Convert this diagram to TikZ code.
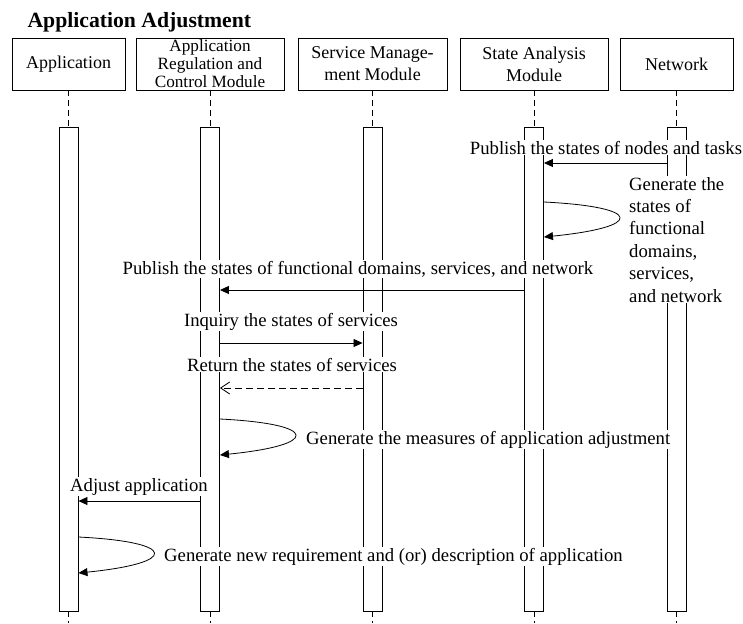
\documentclass[tikz,border=0pt]{standalone}
\usepackage{fontspec}
\setmainfont{Liberation Serif}
\usetikzlibrary{arrows.meta,positioning}

\begin{document}
\begin{tikzpicture}[x=1pt,y=-1pt,on grid,node distance=305pt,
    every node/.style={font=\fontsize{18.7}{22.4}\selectfont},
    hdbox/.style={draw,line width=0.9pt,minimum height=52pt,inner sep=0pt,align=center,font=\fontsize{18}{22}\selectfont},
    actbar/.style={draw,line width=0.9pt,fill=white,minimum width=19pt,minimum height=484pt,inner sep=0pt},
    lifeline/.style={line width=0.7pt,dash pattern=on 6pt off 4pt},
    msg/.style={line width=0.8pt,-{Triangle[length=9pt,width=8pt]}},
    reply/.style={line width=0.8pt,dash pattern=on 7pt off 4pt,-{Straight Barb[length=9pt,width=12pt]}},
    lbl/.style={fill=white,inner sep=1pt,anchor=base}]
  \useasboundingbox (0,0) rectangle (743,623);
  \node[anchor=base west,font=\bfseries\fontsize{21.7}{25}\selectfont] (title) at (24,28) {Application Adjustment};

  \node[hdbox,minimum width=113pt] (app) at (68.5,64) {Application};
  \node[hdbox,minimum width=148pt,font=\fontsize{17.2}{18}\selectfont] [right=141.5pt of app] (arc) {Application\\Regulation and\\Control Module};
  \node[hdbox,minimum width=149pt] [right=162.5pt of arc] (smm) {Service Manage-\\ment Module};
  \node[hdbox,minimum width=148pt] [right=161.5pt of smm] (sam) {State Analysis\\Module};
  \node[hdbox,minimum width=113pt] [right=142.5pt of sam] (net) {Network};

  \foreach \n in {app,arc,smm,sam,net} {
    \draw[lifeline] (\n.south) -- (\n.south |- 0,128);
    \node[actbar] [below=of \n] (\n bar) {};
    \draw[lifeline] (\n bar.south) -- (\n bar.south |- 0,623);
  }

  \draw[msg] (netbar.west |- 0,163) -- (sambar.east |- 0,163);
  \node[lbl] (pubnodes) at (606,154) {Publish the states of nodes and tasks};
  \draw[msg] (sambar.east |- 0,202) .. controls +(100,5) and +(100,-10) .. (sambar.east |- 0,237);
  \node[lbl,anchor=north west,align=left] (genstates) at (628,176) {Generate the\\states of\\functional\\domains,\\services,\\and network};
  \draw[msg] (sambar.west |- 0,290) -- (arcbar.east |- 0,290);
  \node[lbl] (pubdomains) at (358,274) {Publish the states of functional domains, services, and network};
  \draw[msg] (arcbar.east |- 0,343) -- (smmbar.west |- 0,343);
  \node[lbl] (inquiry) at (291,326) {Inquiry the states of services};
  \draw[reply] (smmbar.west |- 0,388) -- (arcbar.east |- 0,388);
  \node[lbl] (return) at (292,371) {Return the states of services};
  \draw[msg] (arcbar.east |- 0,419) .. controls +(100,5) and +(100,-10) .. (arcbar.east |- 0,455);
  \node[lbl,anchor=base west] (genmeasures) at (305,444) {Generate the measures of application adjustment};
  \draw[msg] (arcbar.west |- 0,501) -- (appbar.east |- 0,501);
  \node[lbl] (adjust) at (139,491) {Adjust application};
  \draw[msg] (appbar.east |- 0,537) .. controls +(100,5) and +(100,-10) .. (appbar.east |- 0,573);
  \node[lbl,anchor=base west] (genreq) at (163,561) {Generate new requirement and (or) description of application};
\end{tikzpicture}
\end{document}
